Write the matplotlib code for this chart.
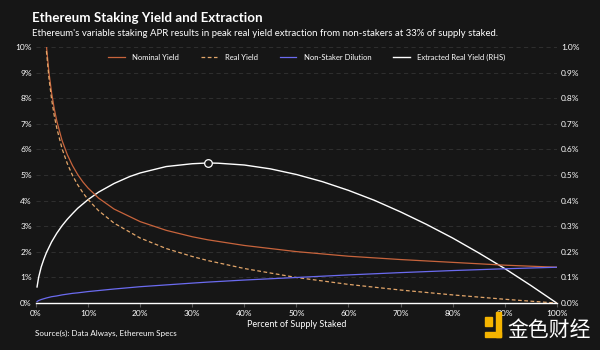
import matplotlib
matplotlib.use('Agg')
import matplotlib.pyplot as plt
from matplotlib.patches import Rectangle
from matplotlib.ticker import FuncFormatter

# values (percent)
staked_main = [2, 2.5, 3, 3.5, 4, 5, 6, 7, 8, 9, 10, 12, 15, 20, 25, 30, 33, 40, 50, 60, 70, 80, 90, 100]
nominal_yield = [10.04, 8.98, 8.20, 7.59, 7.10, 6.35, 5.80, 5.37, 5.02, 4.73, 4.49, 4.10, 3.67, 3.18,
                 2.84, 2.59, 2.47, 2.25, 2.01, 1.83, 1.70, 1.59, 1.48, 1.40]
real_yield = [9.84, 8.76, 7.95, 7.32, 6.82, 6.03, 5.45, 4.99, 4.62, 4.31, 4.04, 3.61, 3.12, 2.54,
              2.13, 1.82, 1.66, 1.35, 1.00, 0.73, 0.51, 0.32, 0.15, 0.0]

staked_full = [0.2, 0.5, 1, 2, 3, 4, 5, 6, 7, 8, 10, 12, 15, 20, 25, 30, 33, 40, 50, 60, 70, 80, 90, 100]
dilution = [0.06, 0.10, 0.14, 0.20, 0.25, 0.28, 0.32, 0.35, 0.38, 0.40, 0.45, 0.49, 0.55, 0.64,
            0.71, 0.78, 0.82, 0.90, 1.00, 1.10, 1.19, 1.27, 1.34, 1.40]

staked_rhs = [0.2, 0.5, 1, 1.5, 2, 3, 4, 5, 6, 7, 8, 10, 12, 15, 18, 20, 25, 30, 33, 35, 40, 45,
              50, 55, 60, 65, 70, 75, 80, 85, 90, 95, 100]
extracted = [0.063, 0.100, 0.141, 0.171, 0.197, 0.239, 0.273, 0.302, 0.327, 0.349, 0.370, 0.404,
             0.433, 0.467, 0.494, 0.508, 0.533, 0.544, 0.547, 0.546, 0.539, 0.524, 0.502, 0.474,
             0.440, 0.401, 0.356, 0.307, 0.254, 0.196, 0.135, 0.069, 0.0]
peak_x, peak_y = 33, 0.547

BG = '#161616'
plt.rcParams['font.family'] = ['Lato', 'DejaVu Sans']

fig = plt.figure(figsize=(6, 3.5), dpi=100, facecolor=BG)
ax = fig.add_axes([0.06, 0.134, 0.868, 0.732], facecolor=BG)
ax2 = ax.twinx()
ax2.set_facecolor(BG)

l1, = ax.plot(staked_main, nominal_yield, color='#c8643c', lw=0.9, label='Nominal Yield')
l2, = ax.plot(staked_main, real_yield, color='#e3a66a', lw=0.9, ls=(0, (3, 2)), label='Real Yield')
l3, = ax.plot(staked_full, dilution, color='#6b6bf0', lw=0.9, label='Non-Staker Dilution')
l4, = ax2.plot(staked_rhs, extracted, color='white', lw=1.0, label='Extracted Real Yield (RHS)')
ax2.plot([peak_x], [peak_y], 'o', ms=5.5, mfc=BG, mec='white', mew=0.9, zorder=5)

ax.set_xlim(0, 100)
ax.set_ylim(0, 10)
ax2.set_ylim(0, 1.0)
ax.set_xticks(range(0, 101, 10))
ax.set_yticks(range(0, 11))
ax2.set_yticks([i / 10 for i in range(11)])
ax.xaxis.set_major_formatter(FuncFormatter(lambda v, p: f'{v:.0f}%'))
ax.yaxis.set_major_formatter(FuncFormatter(lambda v, p: f'{v:.0f}%'))
ax2.yaxis.set_major_formatter(FuncFormatter(lambda v, p: f'{v:.1f}%'))

# grid on the back axes so that every line sits above it
ax2.grid(axis='y', color='#333333', lw=0.6, ls=(0, (5, 4)))
ax2.set_axisbelow(True)
for a in (ax, ax2):
    for s in a.spines.values():
        s.set_visible(False)
    a.tick_params(colors='white', labelsize=6, length=0, pad=3)
ax.spines['bottom'].set_visible(True)
ax.spines['bottom'].set_color('white')
ax.spines['bottom'].set_linewidth(1.0)
ax.tick_params(axis='x', length=3, color='#555555', pad=2)
ax.set_zorder(ax2.get_zorder() + 1)
ax.patch.set_visible(False)

ax.set_xlabel('Percent of Supply Staked', color='white', fontsize=6.5, labelpad=2)

ax.legend(handles=[l1, l2, l3, l4], loc='upper center', bbox_to_anchor=(0.52, 1.0), ncol=4,
          frameon=False, fontsize=5.5, labelcolor='white', handlelength=2.2,
          columnspacing=2.8, handletextpad=1.0)

fig.text(0.053, 0.948, 'Ethereum Staking Yield and Extraction', color='white',
         fontsize=9.6, fontweight='bold', va='center')
fig.text(0.053, 0.905, "Ethereum's variable staking APR results in peak real yield extraction "
         "from non-stakers at 33% of supply staked.", color='white', fontsize=6.95, va='center')
fig.text(0.058, 0.048, 'Source(s): Data Always, Ethereum Specs', color='white',
         fontsize=5.8, va='center')

# watermark
fig.patches.append(Rectangle((0.808, 0.070), 0.012, 0.025, transform=fig.transFigure,
                             color='#f5b400'))
fig.patches.append(Rectangle((0.826, 0.038), 0.009, 0.07, transform=fig.transFigure,
                             color='#f5b400'))
fig.patches.append(Rectangle((0.808, 0.038), 0.027, 0.014, transform=fig.transFigure,
                             color='#f5b400'))
fig.text(0.845, 0.058, '金色财经', color='white', fontsize=15,
         family=['Noto Sans CJK SC', 'DejaVu Sans'], va='center')

fig.savefig('out.png', dpi=100, facecolor=BG)
